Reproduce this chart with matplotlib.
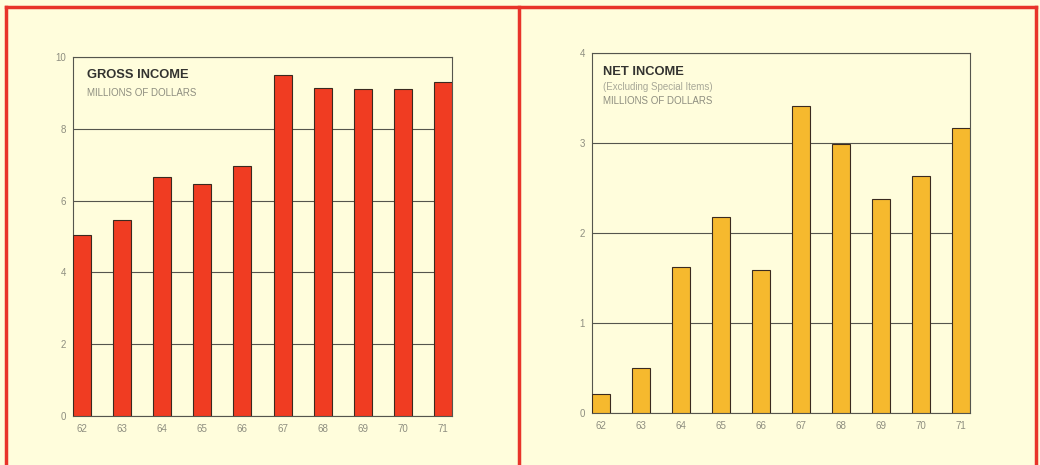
import matplotlib.pyplot as plt
from matplotlib.lines import Line2D
import numpy as np

years = ['62', '63', '64', '65', '66', '67', '68', '69', '70', '71']
gross_income = [5.05, 5.45, 6.65, 6.45, 6.95, 9.5, 9.15, 9.1, 9.1, 9.3]
net_income = [0.21, 0.5, 1.62, 2.18, 1.59, 3.41, 2.99, 2.38, 2.63, 3.17]

bg = '#FFFDDC'
frame_red = '#E8342A'
line_col = '#55554d'
tick_col = '#8e8e80'

plt.rcParams['font.family'] = ['Liberation Sans', 'DejaVu Sans']

fig = plt.figure(figsize=(10.4, 4.65), dpi=100, facecolor=bg)

W, H = 1040, 465


def fx(px):
    return px / W


def fy(py):
    return 1 - py / H


def panel(rect, values, ymax, color):
    ax = fig.add_axes(rect)
    ax.set_facecolor(bg)
    x = np.arange(len(values))
    w = 0.45
    ax.bar(x, values, width=w, color=color, edgecolor='#3a2a20', linewidth=0.8, zorder=3)
    ax.set_xlim(-w / 2, len(values) - 1 + w / 2)
    ax.set_ylim(0, ymax)
    ax.set_xticks(x)
    ax.set_xticklabels(years)
    ax.set_yticks(np.arange(0, ymax + 0.1, 2 if ymax > 5 else 1))
    ax.tick_params(length=0, labelsize=7, labelcolor=tick_col, pad=5)
    ax.tick_params(axis='x', pad=6)
    ax.yaxis.grid(True, color=line_col, linewidth=0.8, zorder=1)
    for s in ax.spines.values():
        s.set_color(line_col)
        s.set_linewidth(0.8)
    return ax


ax1 = panel([fx(73), fy(416), fx(452 - 73), (416 - 57) / H], gross_income, 10, '#F03C22')
ax2 = panel([fx(592), fy(413), fx(970 - 592), (413 - 53) / H], net_income, 4, '#F6B92E')

# titles
fig.text(fx(87), fy(75), 'GROSS INCOME', fontsize=9.3, fontweight='bold', color='#333330', va='center')
fig.text(fx(87), fy(93), 'MILLIONS OF DOLLARS', fontsize=7, color='#8e8e80', va='center')
fig.text(fx(603), fy(72), 'NET INCOME', fontsize=9.3, fontweight='bold', color='#333330', va='center')
fig.text(fx(603), fy(87), '(Excluding Special Items)', fontsize=7, color='#a8a898', va='center')
fig.text(fx(603), fy(101), 'MILLIONS OF DOLLARS', fontsize=7, color='#8e8e80', va='center')

# red frame around the two panels
lw = 2.5
for xs, ys in [([6, 1036], [7, 7]),
               ([6, 6], [7, 470]),
               ([519, 519], [7, 470]),
               ([1036, 1036], [7, 470])]:
    fig.add_artist(Line2D([fx(v) for v in xs], [fy(v) for v in ys], color=frame_red, linewidth=lw))

fig.savefig('out.png', dpi=100, facecolor=bg)
